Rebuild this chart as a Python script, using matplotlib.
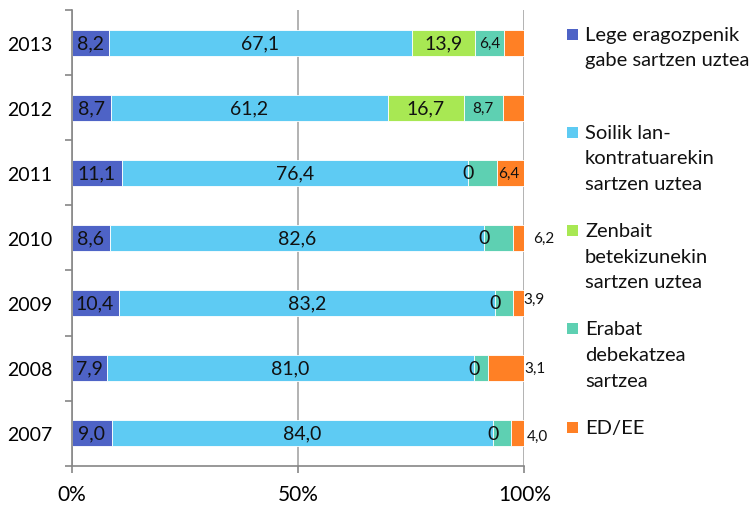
import matplotlib
matplotlib.use('Agg')
from matplotlib import pyplot as plt
from matplotlib.patches import Rectangle
import numpy as np

# data (bottom to top)
years = ['2007', '2008', '2009', '2010', '2011', '2012', '2013']
lege = [9.0, 7.9, 10.4, 8.6, 11.1, 8.7, 8.2]
soilik = [84.0, 81.0, 83.2, 82.6, 76.4, 61.2, 67.1]
zenbait = [0, 0, 0, 0, 0, 16.7, 13.9]
erabat = [4.0, 3.1, 3.9, 6.2, 6.4, 8.7, 6.4]
ed_ee = [3.0, 8.0, 2.5, 2.6, 6.1, 4.7, 4.4]

series_names = ['Lege eragozpenik\ngabe sartzen uztea',
                'Soilik lan-\nkontratuarekin\nsartzen uztea',
                'Zenbait\nbetekizunekin\nsartzen uztea',
                'Erabat\ndebekatzea\nsartzea',
                'ED/EE']
colors = ['#4E63C6', '#5ECBF3', '#A8E853', '#5ED0B2', '#FF8025']
x_ticks = [0, 50, 100]
x_ticklabels = ['0%', '50%', '100%']

plt.rcParams['font.family'] = ['Lato', 'DejaVu Sans']

fig = plt.figure(figsize=(7.49, 5.06), dpi=100)
W, H = 749, 506
ax = fig.add_axes([71.5 / W, 1 - 466.7 / H, (524.3 - 71.5) / W, (466.7 - 11) / H])

y = np.arange(len(years))
all_series = [lege, soilik, zenbait, erabat, ed_ee]
left = np.zeros(len(years))
bars = []
for vals, c in zip(all_series, colors):
    ax.barh(y, vals, left=left, height=0.4, color=c, edgecolor='white', linewidth=0.6, zorder=2)
    bars.append((np.array(vals), left.copy()))
    left = left + np.array(vals)

def fmt(v):
    if v == 0:
        return '0'
    return ('%.1f' % v).replace('.', ',')

# labels for first three series, centered in segment
for k in range(3):
    vals, lft = bars[k]
    for i in range(len(years)):
        ax.text(lft[i] + vals[i] / 2, y[i], fmt(vals[i]), ha='center', va='center',
                fontsize=14, color='#111111', zorder=3)

# teal labels (Excel moved the small ones)
vals, lft = bars[3]
offsets = {4: (-16, 0), 3: (19, 0), 2: (10, 4), 1: (11, 0), 0: (13, -3)}
for i in range(len(years)):
    if i in offsets:
        dx, dy = offsets[i]
        ax.annotate(fmt(vals[i]), xy=(100, y[i]), xytext=(dx, dy), textcoords='offset pixels',
                    ha='center', va='center', fontsize=11, color='#111111', zorder=3,
                    annotation_clip=False)
    else:
        ax.text(lft[i] + vals[i] / 2, y[i], fmt(vals[i]), ha='center', va='center',
                fontsize=11, color='#111111', zorder=3)

ax.set_xlim(0, 100)
ax.set_ylim(-0.5, len(years) - 0.5)
ax.set_yticks(y)
ax.set_yticklabels(years, fontsize=14)
ax.set_yticks(np.arange(-0.5, len(years), 1), minor=True)
ax.tick_params(axis='y', which='major', length=0, pad=14)
ax.tick_params(axis='y', which='minor', length=5, width=1.2, color='#868686', direction='out')
ax.set_xticks(x_ticks)
ax.set_xticklabels(x_ticklabels, fontsize=15)
ax.tick_params(axis='x', length=5, width=1.2, color='#868686', direction='out', pad=8)

ax.grid(axis='x', color='#A6A6A6', linewidth=1.2)
ax.set_axisbelow(True)
for s in ['top', 'right']:
    ax.spines[s].set_visible(False)
for s in ['left', 'bottom']:
    ax.spines[s].set_color('#868686')
    ax.spines[s].set_linewidth(1.2)

# legend drawn by hand so entries are evenly spaced like the original
for j, (name, c) in enumerate(zip(series_names, colors)):
    ty = 35 + j * 98.3
    fig.patches.append(Rectangle((567 / W, 1 - (ty + 5.5) / H), 11 / W, 11 / H,
                                 transform=fig.transFigure, facecolor=c, edgecolor='none'))
    lines = name.split('\n')
    for m, line in enumerate(lines):
        fig.text(585 / W, 1 - (ty + m * 25.7) / H, line, ha='left', va='center',
                 fontsize=14.5, color='#111111')

fig.savefig('out.png', dpi=100)
